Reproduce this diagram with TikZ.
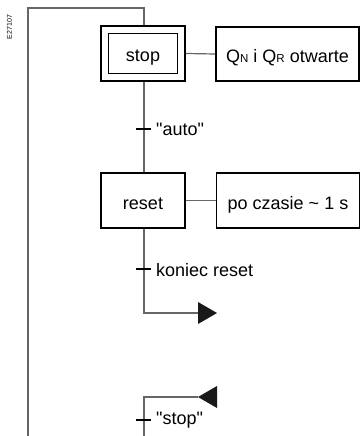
\documentclass[tikz,border=0pt]{standalone}
\usepackage{fontspec}
\setmainfont{Liberation Sans}[Ligatures=TeXOff]
\usetikzlibrary{calc}
\newcommand{\smallcap}[1]{{\fontsize{11.5}{14}\selectfont #1}}
\begin{document}
\begin{tikzpicture}[x=1pt,y=-1pt,
  box/.style={draw=black,line width=1.8pt,rectangle,inner sep=0pt,
    text height=17pt,text depth=0pt,font=\fontsize{18}{21}\selectfont},
  link/.style={draw=black!60,line width=1.2pt},
  tick/.style={draw=black,line width=1.3pt},
  lbl/.style={anchor=west,inner sep=0pt,font=\fontsize{18}{21}\selectfont},
  tip/.style={fill=black!90,draw=none}]
\useasboundingbox (0,0) rectangle (361,436);
% document reference number
\node[rotate=90,font=\fontsize{7}{8}\selectfont,inner sep=0pt] (ref) at (9.5,27) {E27107};
% initial step (double frame)
\node[box,minimum width=84pt,minimum height=55pt] (stop) at (143,53.5) {};
\node[box,minimum width=69pt,minimum height=40pt] (stopin) at (143,53.5) {stop};
\node[box,minimum width=143pt,minimum height=54pt] (qact) at (287.5,54)
  {Q\smallcap{N} i Q\smallcap{R} otwarte};
% reset step
\node[box,minimum width=84pt,minimum height=55pt] (reset) at (143,200.5) {reset};
\node[box,minimum width=143pt,minimum height=55pt] (tact) at (288,200.5) {po czasie \textasciitilde\ 1 s};
% loop-back frame
\coordinate (tl) at (28,8);
\coordinate (tr) at (144,8);
\coordinate (bl) at (28,436);
\coordinate (c1) at (144,313);
\coordinate (a1) at (198,313);
\coordinate (c2) at (144,397);
\coordinate (a2) at (198,397);
\coordinate (be) at (144,436);
\draw[link] (bl) -- (tl) -- (tr) -- (stop.north -| tr);
\draw[link] (stop.south -| tr) -- (reset.north -| tr);
\draw[link] (reset.south -| tr) -- (c1) -- (a1);
\draw[link] (be) -- (c2) -- (a2);
\draw[link] (stop.east) -- (qact.west);
\draw[link] (reset.east) -- (tact.west);
% arrowheads
\fill[tip] (a1) ++(0,-11) -- ++(19,11) -- ++(-19,11) -- cycle;
\fill[tip] (a2) -- ++(19,-11) -- ++(0,22) -- cycle;
% transitions
\coordinate (t1) at (144,129);
\coordinate (t2) at (144,269);
\coordinate (t3) at (144,420);
\foreach \tk in {t1,t2,t3} \draw[tick] ($(\tk)+(-8,0)$) -- ($(\tk)+(7,0)$);
\node[lbl] (l1) at (156,129) {"auto"};
\node[lbl] (l2) at (156,270) {koniec reset};
\node[lbl] (l3) at (156,420) {"stop"};
\end{tikzpicture}
\end{document}
